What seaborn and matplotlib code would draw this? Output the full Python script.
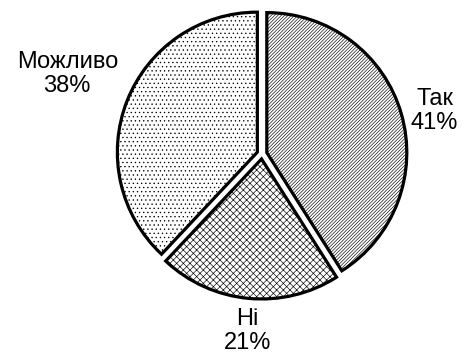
import numpy as np
import matplotlib
matplotlib.use("Agg")
import matplotlib.pyplot as plt
import seaborn as sns

# Survey answers and their shares (%)
categories = ["Так", "Ні", "Можливо"]
shares = [41, 21, 38]
hatches = ["//////////", "xxxxx", "...."]

sns.set_theme(style="white")
plt.rcParams["font.family"] = ["Liberation Sans", "DejaVu Sans"]
plt.rcParams["hatch.linewidth"] = 0.45

W, H = 474, 357
fig = plt.figure(figsize=(W / 100, H / 100), dpi=100)
ax = fig.add_axes([0, 0, 1, 1])

cx, cy, r = 262, 203, 140
gap = 5  # outward shift of every wedge, in data units
wedges, _ = ax.pie(
    shares,
    startangle=90,
    counterclock=False,
    explode=[gap] * len(shares),
    center=(cx, cy),
    radius=r,
    colors=["white"] * len(shares),
    wedgeprops=dict(edgecolor="black", linewidth=2.3),
    frame=True,
)
for w, h in zip(wedges, hatches):
    w.set_hatch(h)

ax.set_xlim(0, W)
ax.set_ylim(0, H)
ax.set_aspect("equal")
ax.axis("off")

# Labels just outside each wedge, on the wedge's bisector
total = sum(shares)
start = 90.0
for cat, val in zip(categories, shares):
    sweep = 360.0 * val / total
    mid = np.deg2rad(start - sweep / 2)
    start -= sweep
    c, s = np.cos(mid), np.sin(mid)
    dist = r + gap + 10
    ha = "left" if c > 0.3 else ("right" if c < -0.3 else "center")
    va = "bottom" if s > 0.35 else ("top" if s < -0.35 else "center")
    ax.text(cx + dist * c, cy + dist * s, f"{cat}\n{val}%",
            ha=ha, va=va, multialignment="center",
            fontsize=17, color="black", linespacing=1.12)

fig.savefig("out.png", dpi=100)
